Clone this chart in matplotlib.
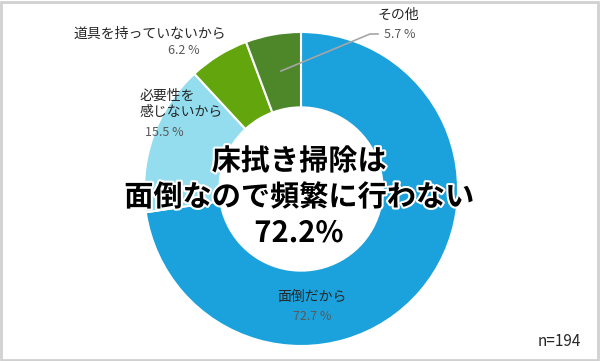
import matplotlib.pyplot as plt
import matplotlib.patheffects as pe
from matplotlib.patches import Rectangle

plt.rcParams['font.family'] = ['Noto Sans CJK JP', 'DejaVu Sans']

# 回答データ (n=194)
labels = ['面倒だから', '必要性を\n感じないから', '道具を持っていないから', 'その他']
shares = [72.7, 15.5, 6.2, 5.7]
colors = ['#1BA1DB', '#93DDEE', '#63A50D', '#4E862A']
n_total = 194
headline = '床拭き掃除は\n面倒なので頻繁に行わない\n72.2%'

W, H = 600, 361
cx, cy, R = 301, 189, 157   # pixel centre / radius of the donut


def fx(px):
    return px / W


def fy(py):
    return 1 - py / H


fig = plt.figure(figsize=(6, 3.61), dpi=100)
ax = fig.add_axes([0, 0, 1, 1])
ax.pie(shares, colors=colors, startangle=90, counterclock=False, radius=1,
       wedgeprops=dict(width=0.48, edgecolor='white', linewidth=1.5))
ax.set_aspect('auto')
ax.set_xlim(-cx / R, (W - cx) / R)
ax.set_ylim(-(H - cy) / R, cy / R)
ax.axis('off')

# 枠線
fig.patches.append(Rectangle((0.002, 0.003), 0.995, 0.992, transform=fig.transFigure,
                             fill=False, edgecolor='#D0D0D0', linewidth=2))

txt_col = '#262626'
pct_col = '#595959'

# ラベル
fig.text(fx(150), fy(34), labels[2], fontsize=10, color=txt_col, ha='center', va='center')
fig.text(fx(184), fy(51), f'{shares[2]} %', fontsize=9, color=pct_col, ha='center', va='center')

fig.text(fx(140), fy(104), labels[1], fontsize=10, color=txt_col, ha='left', va='center',
         linespacing=1.15)
fig.text(fx(164), fy(132), f'{shares[1]} %', fontsize=9, color=pct_col, ha='center', va='center')

fig.text(fx(398), fy(15), labels[3], fontsize=10, color=txt_col, ha='center', va='center')
fig.text(fx(400), fy(35), f'{shares[3]} %', fontsize=9, color=pct_col, ha='center', va='center')
fig.add_artist(plt.Line2D([fx(281), fx(370), fx(378)], [fy(71), fy(34), fy(34)],
                          transform=fig.transFigure, color='#A6A6A6', linewidth=1.2))

fig.text(fx(312), fy(297), labels[0], fontsize=10, color=txt_col, ha='center', va='center')
fig.text(fx(312), fy(316), f'{shares[0]} %', fontsize=9, color=pct_col, ha='center', va='center')

fig.text(fx(581), fy(342), f'n={n_total}', fontsize=11, color=txt_col, ha='right', va='center')

# 中央の見出し
fig.text(fx(299), fy(197), headline, fontsize=21, fontweight='bold', color='black',
         ha='center', va='center', linespacing=1.25,
         path_effects=[pe.withStroke(linewidth=3, foreground='white')])

fig.savefig('out.png', dpi=100)
